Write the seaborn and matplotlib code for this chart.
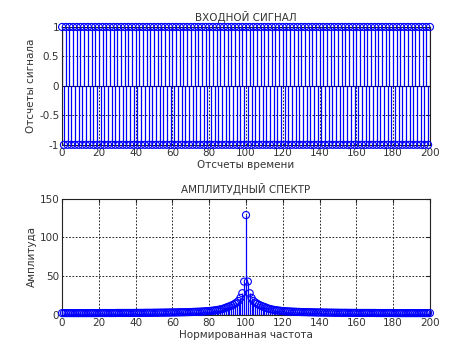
import numpy as np
import pandas as pd
import seaborn as sns
import matplotlib
matplotlib.use("Agg")
import matplotlib.pyplot as plt

# input signal: 201 samples, alternating +1 / -1
signal_n = list(range(0, 201))
signal_values = [1, -1] * 100 + [1]

# amplitude spectrum, bins 0..200
spec_k = list(range(0, 201))
spec_left = [
    2.3, 2.3, 2.3, 2.3, 2.3, 2.3, 2.3, 2.3, 2.3, 2.3,
    2.3, 2.3, 2.3, 2.3, 2.3, 2.3, 2.3, 2.3, 2.3, 2.3,
    2.4, 2.4, 2.4, 2.4, 2.4, 2.4, 2.4, 2.4, 2.4, 2.4,
    2.5, 2.5, 2.5, 2.5, 2.5, 2.5, 2.5, 2.5, 2.5, 2.5,
    2.6, 2.6, 2.6, 2.6, 2.6, 2.7, 2.7, 2.7, 2.7, 2.7,
    2.8, 2.8, 2.8, 2.9, 2.9, 2.9, 3.0, 3.0, 3.0, 3.1,
    3.1, 3.2, 3.2, 3.3, 3.3, 3.4, 3.4, 3.5, 3.6, 3.6,
    3.7, 3.8, 3.9, 4.0, 4.1, 4.2, 4.3, 4.5, 4.6, 4.8,
    5.0, 5.2, 5.5, 5.8, 6.2, 6.6, 7.0, 7.6, 8.3, 9.2,
    10.2, 11.0, 12.0, 13.0, 14.5, 16.0, 18.0, 22.0, 28.0, 43.0,
]
spec_peak = [129.0]
spec_right = [
    43.0, 28.0, 22.0, 18.0, 16.0, 14.5, 13.0, 12.0, 11.0, 10.2,
    9.2, 8.3, 7.6, 7.0, 6.6, 6.2, 5.8, 5.5, 5.2, 5.0,
    4.8, 4.6, 4.5, 4.3, 4.2, 4.1, 4.0, 3.9, 3.8, 3.7,
    3.6, 3.6, 3.5, 3.4, 3.4, 3.3, 3.3, 3.2, 3.2, 3.1,
    3.1, 3.0, 3.0, 3.0, 2.9, 2.9, 2.9, 2.8, 2.8, 2.8,
    2.7, 2.7, 2.7, 2.7, 2.7, 2.6, 2.6, 2.6, 2.6, 2.6,
    2.5, 2.5, 2.5, 2.5, 2.5, 2.5, 2.5, 2.5, 2.5, 2.5,
    2.4, 2.4, 2.4, 2.4, 2.4, 2.4, 2.4, 2.4, 2.4, 2.4,
    2.3, 2.3, 2.3, 2.3, 2.3, 2.3, 2.3, 2.3, 2.3, 2.3,
    2.3, 2.3, 2.3, 2.3, 2.3, 2.3, 2.3, 2.3, 2.3, 2.3,
]
spec_values = spec_left + spec_peak + spec_right

sig_df = pd.DataFrame({"n": signal_n, "x": signal_values})
spec_df = pd.DataFrame({"k": spec_k, "a": spec_values})

sns.set_style("white")
plt.rcParams["font.family"] = ["DejaVu Sans"]
plt.rcParams["font.size"] = 7.5
text_col = "#333333"
blue = "#0000ff"

fig = plt.figure(figsize=(4.74, 3.55), dpi=100)
ax1 = fig.add_axes([0.131, 0.592, 0.776, 0.332])
ax2 = fig.add_axes([0.131, 0.113, 0.776, 0.327])


def stem(ax, df, xcol, ycol):
    ax.vlines(df[xcol], 0, df[ycol], color=blue, lw=0.9, zorder=2)
    ax.axhline(0, color="#000080", lw=0.8, zorder=2)
    sns.scatterplot(data=df, x=xcol, y=ycol, ax=ax, marker="o", s=26,
                    facecolor="none", edgecolor=blue, linewidth=0.8,
                    clip_on=False, zorder=3, legend=False)


stem(ax1, sig_df, "n", "x")
stem(ax2, spec_df, "k", "a")

ax1.set_xlim(0, 200)
ax1.set_ylim(-1, 1)
ax1.set_yticks([-1, -0.5, 0, 0.5, 1])
ax1.set_yticklabels(["-1", "-0.5", "0", "0.5", "1"])
ax1.set_xticks(range(0, 201, 20))
ax1.set_title("ВХОДНОЙ СИГНАЛ", color=text_col, fontsize=7.5, pad=4)
ax1.set_xlabel("Отсчеты времени", color=text_col, labelpad=2)
ax1.set_ylabel("Отсчеты сигнала", color=text_col, labelpad=2)

ax2.set_xlim(0, 200)
ax2.set_ylim(0, 150)
ax2.set_yticks([0, 50, 100, 150])
ax2.set_xticks(range(0, 201, 20))
ax2.set_title("АМПЛИТУДНЫЙ СПЕКТР", color=text_col, fontsize=7.5, pad=4)
ax2.set_xlabel("Нормированная частота", color=text_col, labelpad=2)
ax2.set_ylabel("Амплитуда", color=text_col, labelpad=2)

for ax in (ax1, ax2):
    ax.grid(True, color="black", ls=(0, (2, 2)), lw=0.6)
    ax.set_axisbelow(True)
    ax.tick_params(direction="in", length=3, color="#222222",
                   labelcolor=text_col, labelsize=7.5, pad=2,
                   top=True, right=True)
    for sp in ax.spines.values():
        sp.set_color("#222222")
        sp.set_linewidth(0.8)

fig.savefig("out.png", dpi=100, facecolor="white")
